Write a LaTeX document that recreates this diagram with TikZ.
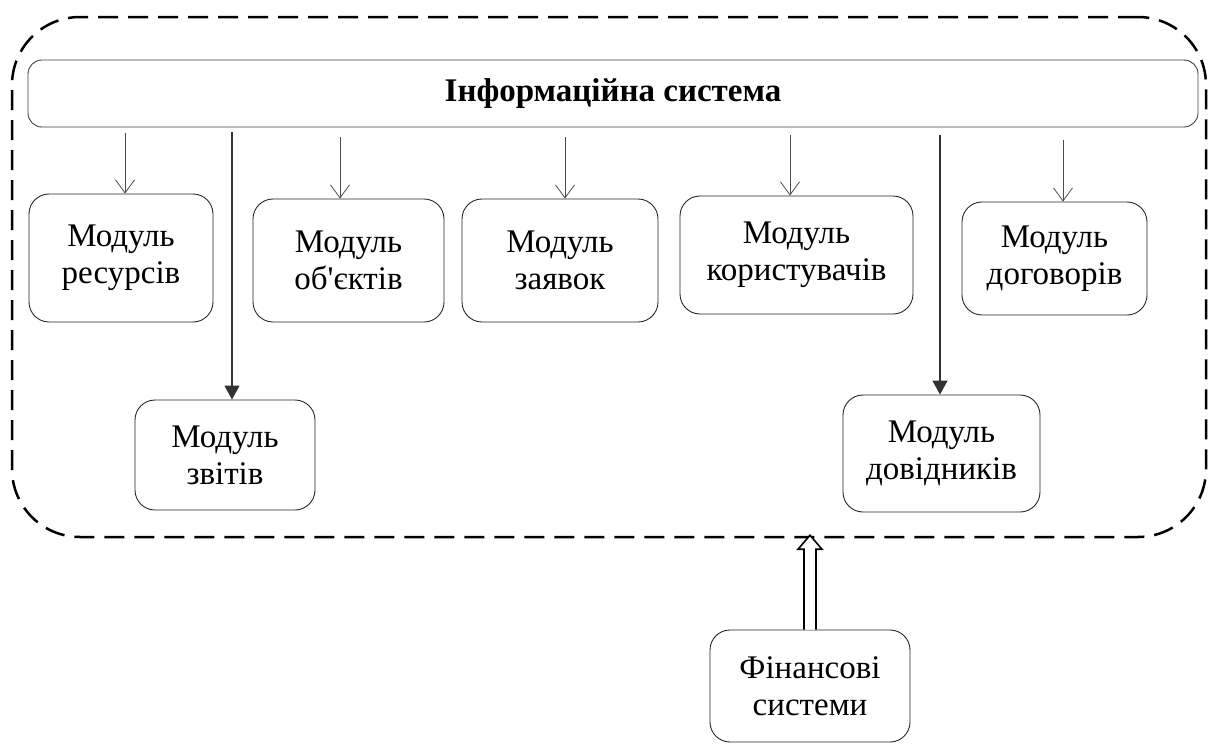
\documentclass[tikz,border=0pt]{standalone}
\usepackage{fontspec}
\setmainfont{Liberation Serif}[Ligatures=TeXOff]
\usetikzlibrary{arrows.meta,calc}
\begin{document}
\begin{tikzpicture}[x=1pt,y=-1pt,
  modbox/.style={draw=black!85,line width=0.9pt,rounded corners=20pt,align=center,
    font=\fontsize{33}{37}\selectfont,inner sep=0pt},
  thinarrow/.style={draw=black!70,line width=0.8pt,-{Straight Barb[length=13pt,width=19pt,line width=0.8pt]}},
  thickarrow/.style={draw=black!80,line width=1.6pt,-{Triangle[length=14pt,width=15pt]}},
  outline/.style={draw=black,line width=2.5pt,dash pattern=on 20pt off 10pt,rounded corners=68pt}
]
\useasboundingbox (0,0) rectangle (1208,744);
\node[outline,minimum width=1194pt,minimum height=520pt,inner sep=0pt] (sys) at (609,277) {};
\node[draw=black!75,line width=0.9pt,rounded corners=14pt,minimum width=1170pt,minimum height=67pt,inner sep=0pt,
  font=\fontsize{33}{37}\selectfont\bfseries] (top) at (613,93.5) {Інформаційна система};
\node[modbox,minimum width=184pt,minimum height=128pt] (res) at (121,258) {Модуль\\ресурсів};
\node[modbox,minimum width=180pt,minimum height=110pt] (zvit) at (225,455) {Модуль\\звітів};
\node[modbox,minimum width=191pt,minimum height=123pt] (obj) at (348.5,260.5) {Модуль\\об'єктів};
\node[modbox,minimum width=196pt,minimum height=123pt] (zay) at (560,260.5) {Модуль\\заявок};
\node[modbox,minimum width=233pt,minimum height=118pt] (kor) at (796.5,255) {Модуль\\користувачів};
\node[modbox,minimum width=185pt,minimum height=113pt] (dog) at (1054.5,258.5) {Модуль\\договорів};
\node[modbox,minimum width=197pt,minimum height=117pt] (dov) at (941.5,453.5) {Модуль\\довідників};
\node[modbox,minimum width=200pt,minimum height=112pt] (fin) at (810,686) {Фінансові\\системи};
% arrow starts
\coordinate (s1) at (125,133);
\coordinate (s2) at (340,137);
\coordinate (s3) at (565,137);
\coordinate (s4) at (790,135);
\coordinate (s5) at (1063,140);
\coordinate (t1) at (232,132);
\coordinate (t2) at (940,135);
\draw[thinarrow] (s1) -- (s1 |- res.north);
\draw[thinarrow] (s2) -- (s2 |- obj.north);
\draw[thinarrow] (s3) -- (s3 |- zay.north);
\draw[thinarrow] (s4) -- (s4 |- kor.north);
\draw[thinarrow] (s5) -- (s5 |- dog.north);
\draw[thickarrow] (t1) -- (t1 |- zvit.north);
\draw[thickarrow] (t2) -- (t2 |- dov.north);
% hollow double arrow
\coordinate (tip) at ($(fin.north |- sys.south)+(0,-3)$);
\draw[line width=1.6pt,fill=white,line join=miter]
  ($(fin.north)+(-6,0)$) -- ($(tip)+(-6,14)$) -- ($(tip)+(-12,14)$) -- (tip)
  -- ($(tip)+(12,14)$) -- ($(tip)+(6,14)$) -- ($(fin.north)+(6,0)$);
\end{tikzpicture}
\end{document}
